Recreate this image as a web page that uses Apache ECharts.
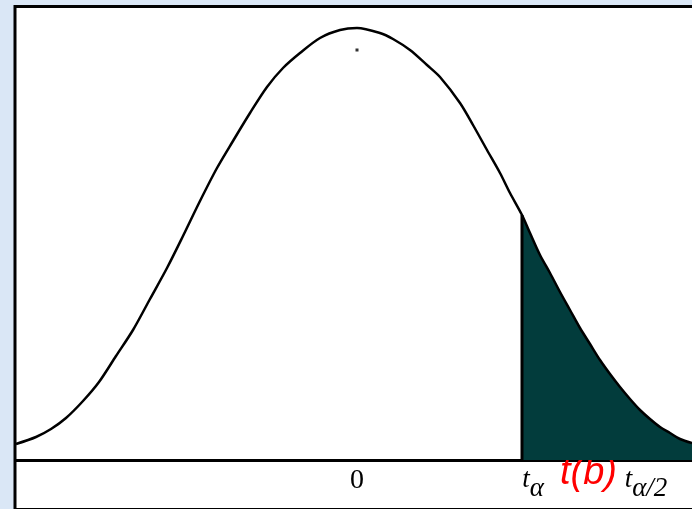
<!DOCTYPE html>
<html>
<head>
<meta charset="utf-8">
<script src="https://cdn.jsdelivr.net/npm/echarts@6/dist/echarts.min.js"></script>
<style>
html, body { margin: 0; padding: 0; }
#main { width: 692px; height: 509px; }
</style>
</head>
<body>
<div id="main"></div>
<script>
//t分布曲线（读图估计的点）
var curveX = [-3.41, -3.21, -3.06, -2.91, -2.74, -2.58, -2.41, -2.24, -2.07, -1.90,
              -1.74, -1.57, -1.40, -1.24, -1.07, -0.90, -0.74, -0.57, -0.37, -0.17,
              0, 0.23, 0.36, 0.53, 0.70, 0.83, 1.03, 1.16, 1.30, 1.43,
              1.53, 1.65, 1.73, 1.83, 1.93, 2.03, 2.13, 2.23, 2.33, 2.43,
              2.53, 2.63, 2.73, 2.83, 2.93, 3.03, 3.13, 3.23, 3.35];
var curveY = [0.016, 0.023, 0.031, 0.042, 0.059, 0.078, 0.104, 0.130, 0.161, 0.192,
              0.224, 0.259, 0.292, 0.319, 0.347, 0.373, 0.392, 0.407, 0.422, 0.430,
              0.432, 0.427, 0.421, 0.410, 0.395, 0.383, 0.357, 0.335, 0.310, 0.287,
              0.267, 0.245, 0.227, 0.205, 0.187, 0.168, 0.150, 0.132, 0.116, 0.100,
              0.086, 0.073, 0.061, 0.050, 0.041, 0.033, 0.027, 0.021, 0.017];

//拒绝域起点 t_α
var tAlpha = 1.65;
var tAlphaY = 0.245;

//峰下的小点
var meanDot = [0, 0.41];

//坐标轴标签
var labelValues = [0, 1.76, 2.315, 2.89];
var labelTexts = ['{n|0}', '{t|t}{a|α}', '{r|t(b)}', '{t|t}{a|α/2}'];

var curveData = [];
var tailData = [];
for (var i = 0; i < curveX.length; i++) {
	curveData.push([curveX[i], curveY[i]]);
	if (curveX[i] >= tAlpha) {
		tailData.push([curveX[i], curveY[i]]);
	}
}

var chart = echarts.init(document.getElementById('main'));
var option = {
	backgroundColor: '#dae7f6',
	animation: false,
	graphic: [
		{
			type: 'rect',
			z: -10,
			shape: { x: 15, y: 6.5, width: 700, height: 503 },
			style: { fill: '#ffffff', stroke: '#000000', lineWidth: 3 }
		}
	],
	grid: {
		left: 16,
		right: 0,
		top: 8,
		bottom: 49
	},
	xAxis: {
		type: 'value',
		min: -3.41,
		max: 3.35,
		splitLine: { show: false },
		axisTick: { show: false },
		axisLine: { show: true, onZero: false, lineStyle: { color: '#000', width: 3 } },
		axisLabel: {
			customValues: labelValues,
			margin: -6,
			formatter: function (v) {
				var idx = labelValues.indexOf(v);
				return idx >= 0 ? labelTexts[idx] : '';
			},
			rich: {
				n: { fontFamily: 'Liberation Serif', fontSize: 28, lineHeight: 28, color: '#000', verticalAlign: 'top', padding: [13, 0, 0, 0] },
				t: { fontFamily: 'Liberation Serif', fontStyle: 'italic', fontSize: 27, lineHeight: 27, color: '#000', verticalAlign: 'top', padding: [12, 0, 0, 0] },
				a: { fontFamily: 'Liberation Serif', fontStyle: 'italic', fontSize: 27, lineHeight: 27, color: '#000', verticalAlign: 'top', padding: [21, 0, 0, 0] },
				r: { fontFamily: 'Liberation Sans', fontStyle: 'italic', fontSize: 38, lineHeight: 38, color: '#ff0000', verticalAlign: 'top' }
			}
		}
	},
	yAxis: {
		type: 'value',
		min: 0,
		max: 0.452,
		show: false
	},
	series: [
		{
			name: 'tail',
			type: 'line',
			data: tailData,
			smooth: 0.3,
			symbol: 'none',
			lineStyle: { width: 0 },
			areaStyle: { color: '#023c3c', opacity: 1 },
			z: 1
		},
		{
			name: 'curve',
			type: 'line',
			data: curveData,
			smooth: 0.3,
			symbol: 'none',
			lineStyle: { color: '#000', width: 2.5 },
			z: 3
		},
		{
			name: 'cut',
			type: 'line',
			data: [[tAlpha, 0], [tAlpha, tAlphaY]],
			symbol: 'none',
			lineStyle: { color: '#000', width: 3 },
			z: 3
		},
		{
			name: 'mean',
			type: 'scatter',
			data: [meanDot],
			symbol: 'rect',
			symbolSize: 3,
			itemStyle: { color: '#000' },
			z: 3
		}
	]
};
chart.setOption(option);
</script>
</body>
</html>
